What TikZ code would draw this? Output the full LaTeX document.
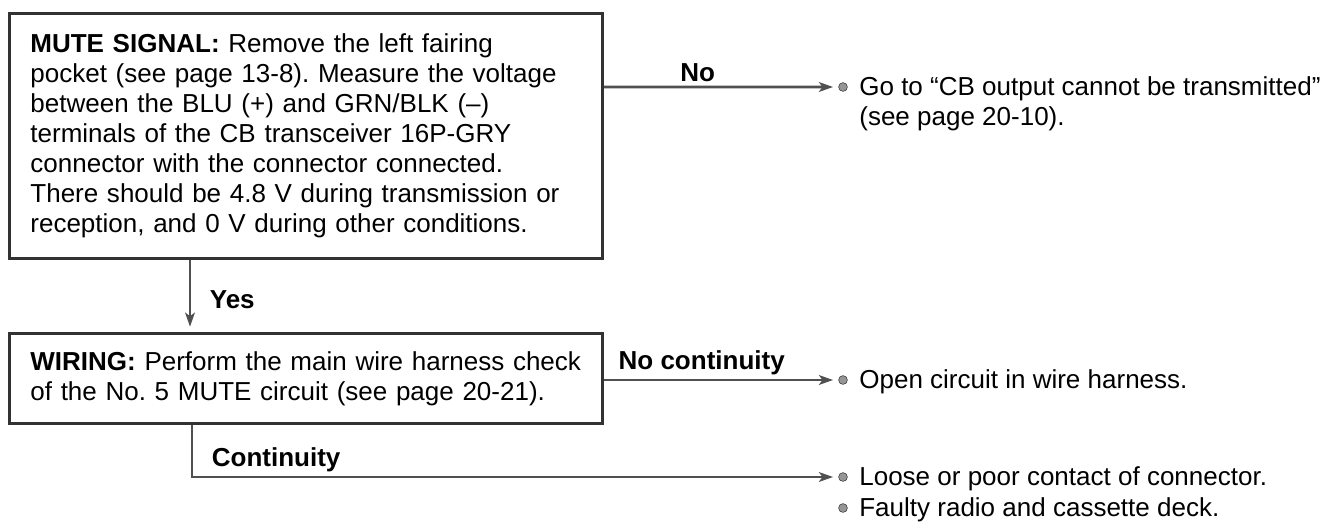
\documentclass[tikz,border=0pt]{standalone}
\usepackage{fontspec}
\setmainfont{Liberation Sans}
\usetikzlibrary{arrows.meta,positioning}
\definecolor{boxline}{RGB}{50,50,50}
\definecolor{arrline}{RGB}{80,80,80}
\definecolor{dotfill}{RGB}{150,150,150}
\frenchspacing

\begin{document}
\begin{tikzpicture}[
  >={Stealth[length=8pt,width=5.5pt,inset=2pt]},
  box/.style={draw=boxline, line width=1.6pt, anchor=north west, align=left,
              font=\fontsize{14.8}{17.07}\selectfont, inner xsep=0.42cm,
              text width=11.02cm},
  arr/.style={->, draw=arrline, line width=1.5pt, shorten >=3pt},
  lbl/.style={font=\fontsize{14.8}{17.07}\selectfont\bfseries, inner sep=2pt},
  dot/.style={circle, fill=dotfill, draw=boxline, line width=0.3pt,
              inner sep=0pt, minimum size=5pt},
  res/.style={font=\fontsize{14.8}{17.07}\selectfont, anchor=base west, inner sep=0pt}
]
\useasboundingbox (0,0) rectangle (26.46,-10.56);

% boxes
\node[box, minimum height=4.9cm] (mute) at (0.16,-0.24)
  {\textbf{MUTE SIGNAL:} Remove the left fairing\\
   pocket (see page 13-8). Measure the voltage\\
   between the BLU (+) and GRN/BLK (--)\\
   terminals of the CB transceiver 16P-GRY\\
   connector with the connector connected.\\
   There should be 4.8 V during transmission or\\
   reception, and 0 V during other conditions.};
\node[box, minimum height=1.8cm] (wiring) at (0.16,-6.64)
  {\textbf{WIRING:} Perform the main wire harness check\\
   of the No. 5 MUTE circuit (see page 20-21).};

% results
\node[dot] (d1) at (16.86,-1.74) {};
\node[res] (r1) at (17.18,-1.90) {Go to “CB output cannot be transmitted”};
\node[res] (r1b) at (17.18,-2.50) {(see page 20-10).};
\node[dot] (d2) at (16.86,-7.6) {};
\node[res] (r2) at (17.18,-7.76) {Open circuit in wire harness.};
\node[dot] (d3) at (16.86,-9.54) {};
\node[res] (r3) at (17.18,-9.70) {Loose or poor contact of connector.};
\node[dot] (d4) at (16.86,-10.16) {};
\node[res] (r4) at (17.18,-10.32) {Faulty radio and cassette deck.};

% connectors
\draw[arr] ([yshift=-1.5cm]mute.north east) -- node[lbl, above, pos=0.4] {No} (d1.west);
\draw[arr] ([xshift=3.64cm]mute.south west) -- node[lbl, right=0.3cm, pos=0.55] {Yes}
      ([xshift=3.64cm]wiring.north west);
\draw[arr] (wiring.east |- d2) -- node[lbl, above right, pos=0, xshift=0.2cm] {No continuity} (d2.west);
\draw[arr] ([xshift=3.68cm]wiring.south west) |- node[lbl, above right, pos=0.5, xshift=0.3cm] {Continuity} (d3.west);
\end{tikzpicture}
\end{document}
